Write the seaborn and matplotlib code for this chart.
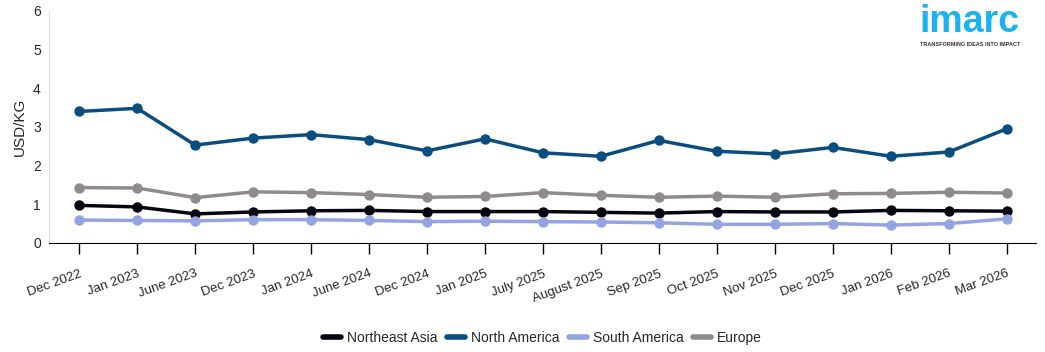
import numpy as np
import pandas as pd
import seaborn as sns
from matplotlib import pyplot as plt

months = ["Dec 2022", "Jan 2023", "June 2023", "Dec 2023", "Jan 2024", "June 2024",
          "Dec 2024", "Jan 2025", "July 2025", "August 2025", "Sep 2025", "Oct 2025",
          "Nov 2025", "Dec 2025", "Jan 2026", "Feb 2026", "Mar 2026"]
northeast_asia = [0.97, 0.93, 0.75, 0.80, 0.83, 0.84, 0.81, 0.81, 0.81, 0.79, 0.77, 0.81,
                  0.80, 0.80, 0.84, 0.83, 0.82]
north_america = [3.40, 3.48, 2.53, 2.71, 2.80, 2.67, 2.38, 2.69, 2.33, 2.24, 2.65, 2.37,
                 2.30, 2.47, 2.24, 2.35, 2.95]
south_america = [0.59, 0.58, 0.57, 0.60, 0.60, 0.58, 0.55, 0.56, 0.55, 0.54, 0.52, 0.48,
                 0.48, 0.50, 0.46, 0.50, 0.62]
europe = [1.43, 1.42, 1.17, 1.32, 1.30, 1.25, 1.18, 1.20, 1.30, 1.23, 1.18, 1.21,
          1.18, 1.27, 1.28, 1.31, 1.29]

series = {"Northeast Asia": northeast_asia, "North America": north_america,
          "South America": south_america, "Europe": europe}
colors = {"Northeast Asia": "#05050f", "North America": "#0a4d80",
          "South America": "#94a3e2", "Europe": "#8f8b8b"}

df = pd.DataFrame([(m, i, name, v) for name, vals in series.items()
                   for i, (m, v) in enumerate(zip(months, vals))],
                  columns=["month", "idx", "region", "value"])

sns.set_style("white")
plt.rcParams['font.family'] = ['Liberation Sans', 'DejaVu Sans']

fig = plt.figure(figsize=(10.45, 3.52), dpi=100)
ax = fig.add_axes([0.047, 0.31, 0.944, 0.659])

sns.lineplot(data=df, x="idx", y="value", hue="region", palette=colors,
             marker="o", markersize=7.5, markeredgewidth=0, linewidth=2.5, ax=ax)

ax.set_xlim(-0.52, 16.5)
ax.set_ylim(0, 6)
ax.set_xticks(range(len(months)))
ax.set_xticklabels(months, rotation=20, ha="right", rotation_mode="anchor", fontsize=9.5)
ax.set_yticks(range(7))
ax.tick_params(axis="y", labelsize=10, length=0, pad=6)
ax.tick_params(axis="x", length=8, width=1, color="black", pad=10, direction="out", bottom=True)
ax.set_xlabel("")
ax.set_ylabel("USD/KG", fontsize=11)
for s in ["top", "right"]:
    ax.spines[s].set_visible(False)
ax.spines["left"].set_color("#dddddd")
ax.spines["bottom"].set_color("black")

handles, labels = ax.get_legend_handles_labels()
for h in handles:
    h.set_marker("")
    h.set_linewidth(4)
ax.legend(handles, labels, loc="center", bbox_to_anchor=(0.5, -0.41), ncol=4,
          frameon=False, fontsize=10, handlelength=1.3, handletextpad=0.4, columnspacing=0.7)

# logo
fig.text(0.928, 0.908, "imarc", color="#1ab3f0", fontsize=27, fontweight="bold",
         ha="center", va="baseline")
fig.text(0.928, 0.868, "TRANSFORMING IDEAS INTO IMPACT", color="#333333", fontsize=4,
         fontweight="bold", ha="center", va="baseline")

fig.savefig("out.png", dpi=100)
